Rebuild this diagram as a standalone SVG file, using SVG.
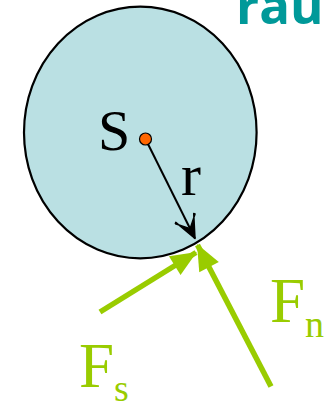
<svg xmlns="http://www.w3.org/2000/svg" width="325" height="404" viewBox="0 0 325 404">
<style>
.serif{font-family:"Liberation Serif","Times New Roman",serif}
.green{fill:#99cc00}
.force{stroke:#99cc00;stroke-width:5.5;fill:none}
</style>
<defs>
<marker id="blackHead" markerUnits="userSpaceOnUse" markerWidth="30" markerHeight="24" refX="26" refY="12" orient="auto" viewBox="0 0 30 24">
<path d="M26,12 L3,2 L4,1 L15,12 L4,23 L3,22 Z" fill="#000" stroke="#000" stroke-width="1.5" stroke-linejoin="round"/>
</marker>
<marker id="greenHead" markerUnits="userSpaceOnUse" markerWidth="32" markerHeight="24" refX="29" refY="12" orient="auto" viewBox="0 0 32 24">
<path d="M30,12 L4,1 L4,23 Z" fill="#99cc00"/>
</marker>
</defs>
<text x="236" y="24" style="font-family:'Open Sans','DejaVu Sans',sans-serif;font-weight:bold;font-size:51px;fill:#009999">rau</text>
<g id="body">
<ellipse cx="140.3" cy="132.5" rx="116.3" ry="125.8" fill="#bae0e3" stroke="#000" stroke-width="2.2"/>
</g>
<g id="S-label"><text class="serif" x="98" y="150" font-size="58">S</text></g>
<g id="r-label"><text class="serif" x="181" y="195" font-size="60">r</text></g>
<g id="connectors">
<line x1="145.5" y1="139" x2="195" y2="238.5" stroke="#000" stroke-width="2" marker-end="url(#blackHead)"/>
<line class="force" x1="100" y1="312" x2="196" y2="252.5" marker-end="url(#greenHead)"/>
<line class="force" x1="271" y1="386.5" x2="197.5" y2="245" marker-end="url(#greenHead)"/>
</g>
<g id="center">
<circle cx="145.5" cy="139" r="6" fill="#ff6600" stroke="#000" stroke-width="1.2"/>
</g>
<g id="Fn-label"><text class="serif green" x="270" y="321.7" font-size="63">F<tspan font-size="38" dy="15">n</tspan></text></g>
<g id="Fs-label"><text class="serif green" x="79" y="386.7" font-size="63">F<tspan font-size="38" dy="14">s</tspan></text></g>
</svg>
